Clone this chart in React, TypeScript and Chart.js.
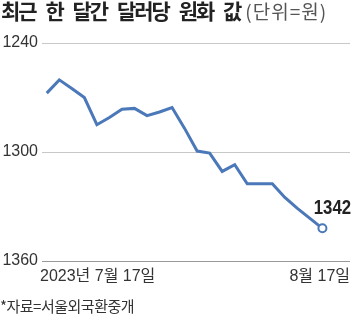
import React, { useEffect, useRef } from "react";
import { Chart, registerables } from "chart.js";

Chart.register(...registerables);

const dates = [
  "7/17", "7/18", "7/19", "7/20", "7/21", "7/24", "7/25", "7/26", "7/27", "7/28", "7/31",
  "8/1", "8/2", "8/3", "8/4", "8/7", "8/8", "8/9", "8/10", "8/11", "8/14", "8/16", "8/17",
];
const values = [
  1267.6, 1260.3, 1265.0, 1270.0, 1285.0, 1281.0, 1276.5, 1276.0, 1280.0, 1278.0, 1275.5,
  1287.0, 1299.5, 1300.6, 1310.7, 1307.0, 1317.5, 1317.5, 1317.5, 1325.0, 1331.0, 1336.5, 1342.0,
];
const yTicks = [1240, 1300, 1360];
const xLabels = ["2023년 7월 17일", "8월 17일"];
const endLabel = "1342";
const titleMain = "최근 한 달간 달러당 원화 값";
const titleUnit = "(단위=원)";
const source = "*자료=서울외국환중개";

const LINE = "#4b78b8";
const NUM_FONT = "'Liberation Sans', Arial, 'Noto Sans CJK KR', sans-serif";

export default function App() {
  const ref = useRef<HTMLCanvasElement | null>(null);

  useEffect(() => {
    document.body.style.margin = "0";
    const canvas = ref.current;
    if (!canvas) return;
    const n = values.length;
    const labelPlugin = {
      id: "labels",
      afterDatasetsDraw(chart: any) {
        const { ctx, chartArea, scales } = chart;
        ctx.save();
        ctx.fillStyle = "#333";
        ctx.font = `16px ${NUM_FONT}`;
        ctx.textBaseline = "middle";
        const ly = chartArea.bottom + 16;
        ctx.textAlign = "left";
        ctx.fillText(xLabels[0], chartArea.left - 2, ly);
        ctx.textAlign = "right";
        ctx.fillText(xLabels[1], chartArea.right, ly);
        const px = scales.x.getPixelForValue(n - 1);
        const py = scales.y.getPixelForValue(values[n - 1]);
        ctx.fillStyle = "#222";
        ctx.font = `bold 21px ${NUM_FONT}`;
        ctx.textAlign = "center";
        ctx.textBaseline = "middle";
        ctx.translate(px + 10, py - 20);
        ctx.scale(0.8, 1);
        ctx.fillText(endLabel, 0, 0);
        ctx.restore();
      },
    };
    const chart = new Chart(canvas, {
      type: "line",
      data: {
        labels: dates,
        datasets: [
          {
            data: values.map((v, i) => ({ x: i, y: v })),
            borderColor: LINE,
            borderWidth: 3,
            tension: 0,
            pointRadius: values.map((_, i) => (i === n - 1 ? 4 : 0)),
            pointBackgroundColor: "#fff",
            pointBorderColor: LINE,
            pointBorderWidth: 2,
          },
        ],
      },
      options: {
        animation: false,
        responsive: false,
        maintainAspectRatio: false,
        layout: { padding: { top: 43, bottom: 54, right: 11, left: 0 } },
        plugins: { legend: { display: false }, tooltip: { enabled: false } },
        scales: {
          x: { type: "linear", min: -0.38, max: 24.2, display: false },
          y: {
            reverse: true,
            min: yTicks[0],
            max: yTicks[yTicks.length - 1],
            afterBuildTicks: (s: any) => {
              s.ticks = yTicks.map((v) => ({ value: v }));
            },
            afterFit: (s: any) => {
              s.width = 42;
            },
            border: { display: false },
            grid: {
              drawTicks: false,
              color: (c: any) => (c.tick && c.tick.value === 1360 ? "#9a9a9a" : "#c8c8c8"),
              lineWidth: 1,
            },
            ticks: {
              padding: 4,
              color: "#333",
              font: { family: NUM_FONT, size: 16 },
              callback: (v: any) => String(v),
            },
          },
        },
      },
      plugins: [labelPlugin],
    } as any);
    return () => chart.destroy();
  }, []);

  return (
    <div style={{ position: "fixed", left: 0, top: 0, width: 361, height: 315, background: "#fff", overflow: "hidden" }}>
      <canvas ref={ref} width={361} height={315} style={{ position: "absolute", left: 0, top: 0, width: 361, height: 315 }} />
      <div
        style={{
          position: "absolute",
          left: 1,
          top: -5,
          whiteSpace: "nowrap",
          fontFamily: "'Noto Sans CJK KR', sans-serif",
          color: "#222",
        }}
      >
        <span style={{ fontSize: 21, fontWeight: 700, letterSpacing: -2, wordSpacing: 7 }}>{titleMain}</span>
        <span style={{ fontSize: 19, fontWeight: 400, color: "#555", marginLeft: 5, letterSpacing: 1 }}>{titleUnit}</span>
      </div>
      <div
        style={{
          position: "absolute",
          left: 0,
          top: 295,
          whiteSpace: "nowrap",
          fontFamily: "'Noto Sans CJK KR', sans-serif",
          fontSize: 15,
          color: "#333",
          letterSpacing: -0.5,
        }}
      >
        {source}
      </div>
    </div>
  );
}
